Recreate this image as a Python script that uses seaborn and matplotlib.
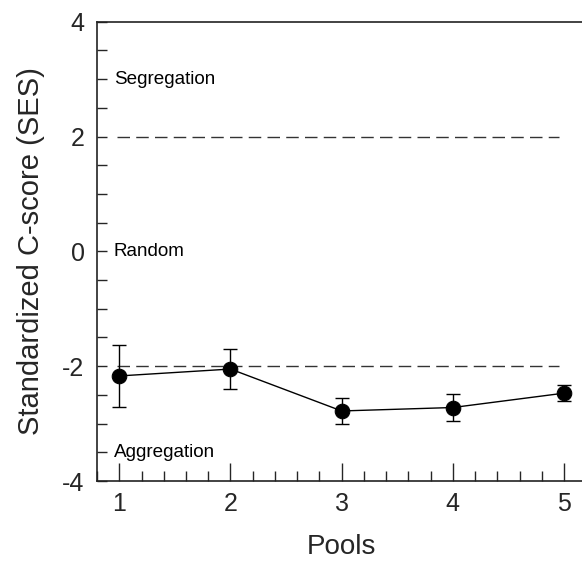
import matplotlib
matplotlib.use("Agg")
import matplotlib.pyplot as plt
from matplotlib.ticker import MultipleLocator
import seaborn as sns
import pandas as pd

pools = [1, 2, 3, 4, 5]
ses_mean = [-2.17, -2.05, -2.78, -2.72, -2.47]
ses_err = [0.54, 0.35, 0.22, 0.23, 0.14]
thresholds = [2, -2]
region_labels = ["Segregation", "Random", "Aggregation"]
region_y = [3, 0, -3.5]
y_ticks = [-4, -2, 0, 2, 4]
x_ticks = [1, 2, 3, 4, 5]

sns.set_theme(style="ticks")
plt.rcParams["font.family"] = ["Liberation Sans", "DejaVu Sans"]
plt.rcParams["axes.unicode_minus"] = False

df = pd.DataFrame({"Pools": pools, "SES": ses_mean})

fig = plt.figure(figsize=(5.82, 5.61), dpi=100)
ax = fig.add_axes([0.1667, 0.1426, 0.8407, 0.8187])

for t in thresholds:
    ax.plot([0.98, 4.95], [t, t], color="#333333", lw=1.0, dashes=(9, 4.5), zorder=1)

ax.errorbar(pools, ses_mean, yerr=ses_err, fmt="none", ecolor="black",
            elinewidth=1.0, capsize=5, capthick=1.0, zorder=2)
sns.lineplot(data=df, x="Pools", y="SES", ax=ax, color="black", lw=1.0,
             marker="o", markersize=10.5, markeredgecolor="black",
             markerfacecolor="black", zorder=3)

for lab, yv in zip(region_labels, region_y):
    ax.text(0.95, yv, lab, fontsize=13.6, va="center", ha="left", color="black")

ax.set_xlim(0.8, 5.2)
ax.set_ylim(-4, 4)
ax.set_xticks(x_ticks)
ax.set_yticks(y_ticks)
ax.xaxis.set_minor_locator(MultipleLocator(0.2))
ax.yaxis.set_minor_locator(MultipleLocator(0.5))
ax.tick_params(axis="x", which="major", direction="in", length=13, width=1, labelsize=18, pad=8)
ax.tick_params(axis="x", which="minor", direction="in", length=7, width=1)
ax.tick_params(axis="y", which="major", direction="in", length=7, width=1, labelsize=18, pad=9)
ax.tick_params(axis="y", which="minor", direction="in", length=7, width=1)
ax.tick_params(top=False, right=False, which="both")

for s in ["left", "bottom", "top", "right"]:
    ax.spines[s].set_visible(True)
    ax.spines[s].set_linewidth(1.2)
    ax.spines[s].set_color("#222222")

ax.set_xlabel("Pools", fontsize=20, labelpad=13)
ax.set_ylabel("Standardized C-score (SES)", fontsize=21, labelpad=12)

fig.savefig("out.png", dpi=100)
